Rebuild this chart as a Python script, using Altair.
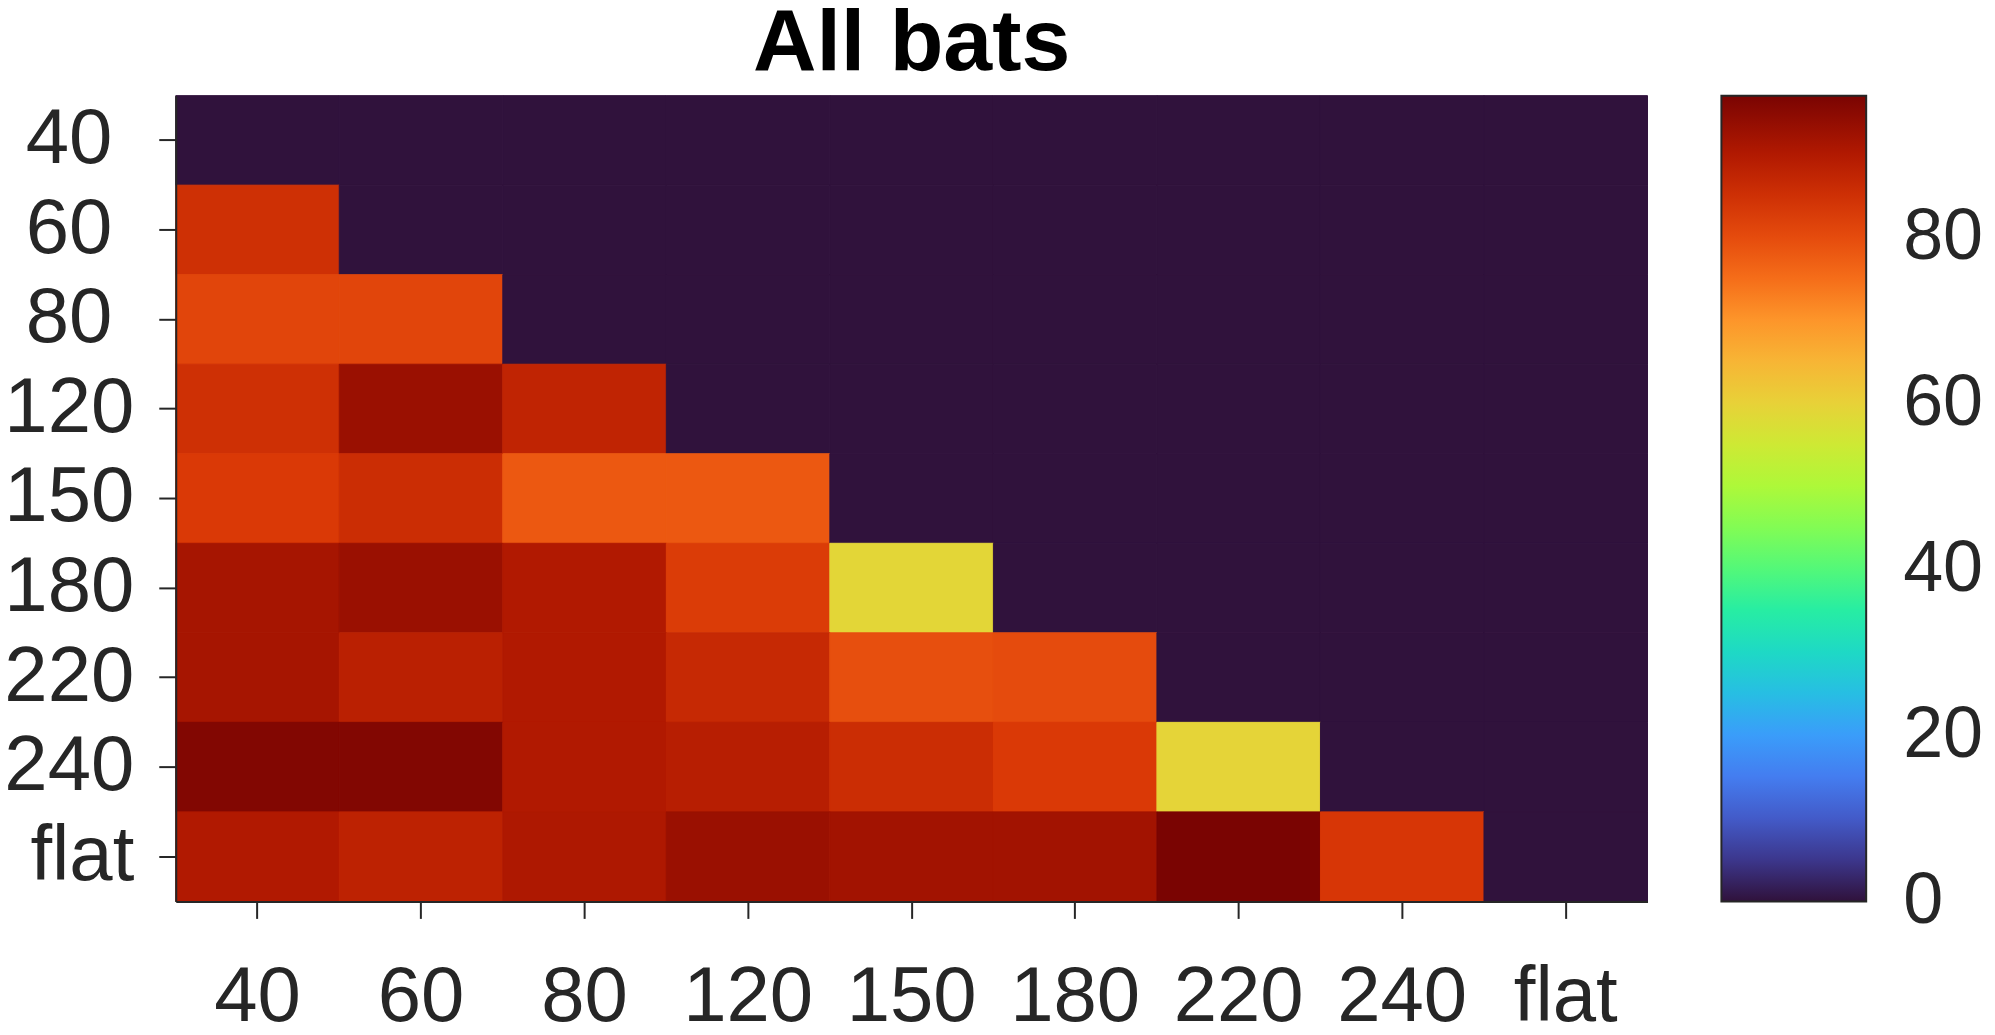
import altair as alt
import pandas as pd

row_labels = ["40", "60", "80", "120", "150", "180", "220", "240", "flat"]
col_labels = ["40", "60", "80", "120", "150", "180", "220", "240", "flat"]

# one list per row (row label -> values across columns)
vals_40 = [0, 0, 0, 0, 0, 0, 0, 0, 0]
vals_60 = [85, 0, 0, 0, 0, 0, 0, 0, 0]
vals_80 = [81, 81, 0, 0, 0, 0, 0, 0, 0]
vals_120 = [85, 93, 87.5, 0, 0, 0, 0, 0, 0]
vals_150 = [83, 85.5, 78, 78, 0, 0, 0, 0, 0]
vals_180 = [91.5, 93, 90, 82.5, 59, 0, 0, 0, 0]
vals_220 = [91.5, 88.5, 90, 86.5, 79.5, 80, 0, 0, 0]
vals_240 = [96, 96, 90, 89, 85.5, 83, 59.5, 0, 0]
vals_flat = [90, 88, 90.5, 93, 92, 92, 97, 83.5, 0]

colorbar_ticks = [0, 20, 40, 60, 80]
color_min = -0.05
color_max = 97

# MATLAB / Google "turbo" colormap stops
turbo_colors = ["#30123b", "#4145ab", "#4675ed", "#39a2fc", "#1bcfd4",
                "#24eca6", "#61fc6c", "#a4fc3b", "#d1e834", "#f3c63a",
                "#fe9b2d", "#f36315", "#d93806", "#b11901", "#7a0402"]
n_stops = len(turbo_colors)
color_domain = [color_min + i * (color_max - color_min) / (n_stops - 1) for i in range(n_stops)]

rows = [vals_40, vals_60, vals_80, vals_120, vals_150, vals_180, vals_220, vals_240, vals_flat]
records = []
for r, vals in zip(row_labels, rows):
    for c, v in zip(col_labels, vals):
        records.append({"row": r, "col": c, "value": v})
df = pd.DataFrame(records)
ticks_df = pd.DataFrame({"t": [t for t in colorbar_ticks if t > 0]})

FONT = "Liberation Sans"
INK = "#262626"

PLOT_W = 1474
PLOT_H = 807
CB_OFFSET = 74
CB_THICK = 145
CB_TICK = 10

color_scale = alt.Scale(type="linear", domain=color_domain, range=turbo_colors, interpolate="rgb")

heat = alt.Chart(df).mark_rect(
    strokeWidth=1,
    stroke=alt.ExprRef("scale('color', datum.value)"),
).encode(
    x=alt.X(
        "col:N", sort=col_labels,
        scale=alt.Scale(paddingInner=0, paddingOuter=0),
        axis=alt.Axis(
            title=None, labelAngle=0, labelFontSize=78, labelFont=FONT,
            labelColor=INK, labelPadding=40, tickSize=17, tickWidth=2,
            tickColor=INK, domainColor=INK, domainWidth=2, grid=False,
        ),
    ),
    y=alt.Y(
        "row:N", sort=row_labels,
        scale=alt.Scale(paddingInner=0, paddingOuter=0),
        axis=alt.Axis(
            title=None, labelFontSize=78, labelFont=FONT, labelColor=INK,
            tickSize=17, tickWidth=2, tickColor=INK,
            domainColor=INK, domainWidth=2, grid=False,
            labelPadding={"condition": {"test": "length(datum.label) < 3", "value": 47}, "value": 25},
        ),
    ),
    color=alt.Color(
        "value:Q",
        scale=color_scale,
        legend=alt.Legend(
            type="gradient", direction="vertical",
            title=None, orient="right", offset=CB_OFFSET, padding=0,
            gradientLength=PLOT_H, gradientThickness=CB_THICK,
            gradientStrokeColor=INK, gradientStrokeWidth=2,
            labelFontSize=72, labelFont=FONT, labelColor=INK,
            labelOffset=37, labelOverlap=False,
            values=colorbar_ticks,
        ),
    ),
)

cb_ticks = alt.Chart(ticks_df).mark_rule(color=INK, strokeWidth=2).encode(
    y=alt.Y("t:Q", scale=alt.Scale(domain=[color_min, color_max], nice=False, zero=False), axis=None),
    x=alt.value(PLOT_W + CB_OFFSET + CB_THICK - CB_TICK),
    x2=alt.value(PLOT_W + CB_OFFSET + CB_THICK),
)

chart = alt.layer(
    heat, cb_ticks,
    title=alt.Title(
        "All bats", fontSize=88, fontWeight="bold", font=FONT, color="black",
        anchor="middle", offset=7,
    ),
).resolve_scale(y="independent").properties(
    width=PLOT_W,
    height=PLOT_H,
    autosize=alt.AutoSizeParams(type="none"),
    padding={"left": 168, "top": 87, "right": 340, "bottom": 125},
).configure_view(strokeWidth=0)

chart.save("out.html", embed_options={"renderer": "svg", "actions": False})
